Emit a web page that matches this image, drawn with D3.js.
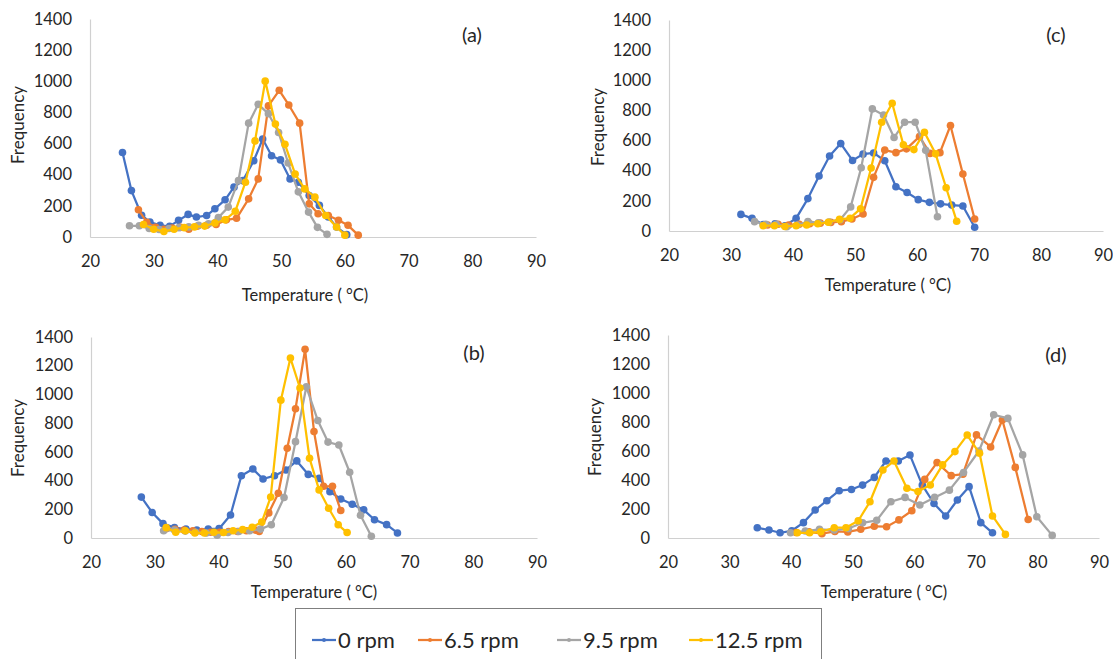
<!DOCTYPE html>
<html><head><meta charset="utf-8">
<script src="https://cdn.jsdelivr.net/npm/d3@7"></script>
<style>
body{margin:0;background:#fff;}
svg{display:block;font-family:Lato,"Open Sans",sans-serif;}
</style></head>
<body>
<svg id="chart" width="1113" height="659"></svg>
<script>
// ---------- data ----------
const seriesNames = ["0 rpm", "6.5 rpm", "9.5 rpm", "12.5 rpm"];
const seriesColors = ["#4472C4", "#ED7D31", "#A5A5A5", "#FFC000"];
const xTicks = [20, 30, 40, 50, 60, 70, 80, 90];
const yTicks = [0, 200, 400, 600, 800, 1000, 1200, 1400];
const panelLabels = ["(a)", "(b)", "(c)", "(d)"];
const xTitle = "Temperature ( °C)";
const yTitle = "Frequency";

// panel (a)
const tempA0 = [25.1,26.5,28.1,29.4,31.0,32.5,33.9,35.4,36.7,38.3,39.6,41.2,42.6,44.0,45.7,47.1,48.5,49.9,51.4,52.7,54.4,56.0,57.4,58.7,60.3];
const freqA0 = [543,298,140,96,75,68,107,145,128,138,181,239,320,362,490,629,522,495,373,352,266,203,128,64,15];
const tempA1 = [27.6,28.9,30.3,31.6,32.9,34.2,35.5,36.9,38.3,39.8,41.4,43.0,44.9,46.4,48.0,49.7,51.2,52.9,54.4,55.8,57.4,59.0,60.5,62.1];
const freqA1 = [175,95,62,50,58,62,50,70,75,80,110,120,245,373,842,942,848,731,213,149,138,107,75,12];
const tempA2 = [26.2,27.75,29.3,30.85,32.4,33.95,35.5,37.05,38.6,40.15,41.7,43.3,44.9,46.4,48.0,49.6,51.1,52.7,54.3,55.7,57.2];
const freqA2 = [72,72,55,48,55,60,65,75,85,125,192,362,731,852,792,671,475,290,160,62,17];
const tempA3 = [28.4,30.0,31.6,33.2,34.8,36.4,38.0,39.6,41.2,42.8,44.4,45.9,47.5,49.1,50.6,52.2,53.7,55.3,57.0,58.7,60.0];
const freqA3 = [80,50,35,50,60,65,70,90,110,165,352,617,1001,725,595,404,309,256,138,64,12];

// panel (b)
const tempB0 = [27.9,29.6,31.3,33.1,34.9,36.6,38.4,40.1,41.9,43.6,45.4,47.0,48.8,50.6,52.3,54.1,55.8,57.5,59.2,61.0,62.8,64.5,66.4,68.1];
const freqB0 = [285,178,100,72,62,56,62,65,160,434,481,411,434,474,537,443,415,323,272,235,196,127,93,35];
const tempB1 = [31.8,33.2,34.6,36.0,37.4,38.8,40.2,41.6,43.0,44.4,45.8,46.4,47.9,49.4,50.8,52.1,53.6,55.0,56.5,57.9,59.2];
const freqB1 = [65,60,55,50,45,40,40,45,45,50,55,45,175,312,625,900,1314,742,360,360,192];
const tempB2 = [31.4,33.1,34.8,36.4,38.1,39.8,41.5,43.2,44.9,46.6,48.3,50.3,52.1,53.8,55.6,57.2,58.9,60.6,62.3,64.0];
const freqB2 = [50,55,48,40,35,20,38,45,50,62,92,282,671,1053,818,668,648,458,158,12];
const tempB3 = [31.8,33.3,34.8,36.3,37.8,39.3,40.8,42.3,43.8,45.3,46.8,48.2,49.8,51.3,52.8,54.3,55.8,57.3,58.8,60.2];
const freqB3 = [72,40,50,35,35,40,38,50,58,75,111,285,960,1253,1045,555,335,207,92,38];

// panel (c)
const tempC0 = [31.6,33.4,35.2,37.1,38.7,40.5,42.4,44.2,45.9,47.7,49.6,51.3,53.0,54.8,56.6,58.4,60.2,62.0,63.8,65.6,67.4,69.3];
const freqC0 = [110,84,42,47,35,84,215,365,498,580,468,510,518,466,294,255,208,190,180,172,166,25];
const tempC1 = [35.9,37.6,39.3,41.0,42.7,44.4,46.1,47.8,49.5,51.3,53.0,54.8,56.6,58.3,60.4,62.1,63.7,65.4,67.4,69.3];
const freqC1 = [40,45,40,45,48,52,57,62,80,113,356,537,520,545,626,515,520,700,378,80];
const tempC2 = [33.8,35.6,37.3,39.0,40.7,42.4,44.1,45.8,47.6,49.3,51.0,52.8,54.6,56.3,58.0,59.7,61.4,63.3];
const freqC2 = [62,45,45,28,40,62,55,60,75,160,420,810,770,620,722,722,535,95];
const tempC3 = [35.2,37.0,38.7,40.5,42.2,44.0,45.7,47.5,49.2,50.9,52.6,54.3,56.0,57.8,59.5,61.2,63.0,64.7,66.4];
const freqC3 = [35,35,30,35,40,48,58,77,85,148,418,722,848,572,540,655,512,287,65];

// panel (d)
const tempD0 = [34.5,36.4,38.2,40.1,42.0,43.9,45.8,47.8,49.8,51.6,53.5,55.4,57.4,59.3,61.3,63.2,65.1,67.0,68.9,70.8,72.7];
const freqD0 = [71,55,36,50,106,193,257,326,335,365,418,531,531,572,365,238,152,262,354,106,36];
const tempD1 = [40.8,42.9,45.0,47.1,49.2,51.3,53.5,55.5,57.5,59.6,61.7,63.7,66.0,67.9,70.1,72.4,74.3,76.4,78.5];
const freqD1 = [38,42,30,45,42,60,81,78,125,188,404,520,430,440,711,628,814,487,128];
const tempD2 = [39.9,42.3,44.6,47.0,49.3,51.6,53.9,56.2,58.5,60.9,63.3,65.7,68.0,70.5,72.9,75.2,77.6,79.9,82.4];
const freqD2 = [36,48,60,55,65,105,122,250,280,228,280,330,452,600,850,825,573,147,18];
const tempD3 = [41.0,43.0,44.8,47.0,48.9,50.9,52.8,54.9,56.7,58.8,60.6,62.6,64.6,66.6,68.6,70.6,72.7,74.8];
const freqD3 = [36,36,43,71,71,119,250,469,531,343,320,366,504,596,710,584,152,25];

// ---------- layout ----------
const panels = [
  {label: panelLabels[0], x0: 90, x1: 536, yb: 237, yt: 19, lab: [472, 35], xt: [305, 295], yt2: [18, 125],
   temps: [tempA0, tempA1, tempA2, tempA3], freqs: [freqA0, freqA1, freqA2, freqA3]},
  {label: panelLabels[1], x0: 91, x1: 537, yb: 538, yt: 337, lab: [474, 353], xt: [314, 592], yt2: [18, 438],
   temps: [tempB0, tempB1, tempB2, tempB3], freqs: [freqB0, freqB1, freqB2, freqB3]},
  {label: panelLabels[2], x0: 669, x1: 1103, yb: 231, yt: 20, lab: [1056, 35], xt: [888, 285], yt2: [598, 127],
   temps: [tempC0, tempC1, tempC2, tempC3], freqs: [freqC0, freqC1, freqC2, freqC3]},
  {label: panelLabels[3], x0: 668, x1: 1099, yb: 538, yt: 335, lab: [1056, 355], xt: [884, 592], yt2: [595, 437],
   temps: [tempD0, tempD1, tempD2, tempD3], freqs: [freqD0, freqD1, freqD2, freqD3]}
];

const svg = d3.select("#chart");
const textColor = "#262626";
const fs = 16.5;

panels.forEach(p => {
  const x = d3.scaleLinear().domain([20, 90]).range([p.x0, p.x1]);
  const y = d3.scaleLinear().domain([0, 1400]).range([p.yb, p.yt]);
  const g = svg.append("g");

  const xa = g.append("g").attr("transform", `translate(0,${p.yb})`)
    .call(d3.axisBottom(x).tickValues(xTicks).tickFormat(d3.format("d")).tickSize(0).tickSizeOuter(0).tickPadding(18));
  const ya = g.append("g").attr("transform", `translate(${p.x0},0)`)
    .call(d3.axisLeft(y).tickValues(yTicks).tickFormat(d3.format("d")).tickSize(0).tickSizeOuter(0).tickPadding(18));
  [xa, ya].forEach(a => {
    a.select(".domain").attr("stroke", "#d0d0d0").attr("stroke-width", 1.2);
    a.selectAll("text").attr("fill", textColor).style("font-size", fs + "px").style("font-family", "Lato");
  });

  const line = d3.line().x(d => x(d[0])).y(d => y(d[1]));
  p.temps.forEach((ts, i) => {
    const pts = ts.map((t, k) => [t, p.freqs[i][k]]);
    const sg = g.append("g");
    sg.append("path").datum(pts).attr("d", line)
      .attr("fill", "none").attr("stroke", seriesColors[i]).attr("stroke-width", 2.25)
      .attr("stroke-linejoin", "round");
    sg.selectAll("circle").data(pts).join("circle")
      .attr("cx", d => x(d[0])).attr("cy", d => y(d[1])).attr("r", 3.8)
      .attr("fill", seriesColors[i]);
  });

  g.append("text").attr("x", p.xt[0]).attr("y", p.xt[1]).attr("dy", "0.35em")
    .attr("text-anchor", "middle").attr("fill", textColor).style("font-size", fs + "px")
    .text(xTitle);
  g.append("text").attr("transform", `translate(${p.yt2[0]},${p.yt2[1]}) rotate(-90)`)
    .attr("dy", "0.35em").attr("text-anchor", "middle").attr("fill", textColor)
    .style("font-size", "17px").text(yTitle);
  g.append("text").attr("x", p.lab[0]).attr("y", p.lab[1]).attr("dy", "0.35em")
    .attr("text-anchor", "middle").attr("fill", textColor).style("font-size", "20px")
    .text(p.label);
});

// ---------- legend ----------
const lg = svg.append("g");
lg.append("rect").attr("x", 295.5).attr("y", 608.5).attr("width", 526).attr("height", 60)
  .attr("fill", "#fff").attr("stroke", "#7f7f7f").attr("stroke-width", 1);
const legX = [312, 418, 557, 689];
seriesNames.forEach((n, i) => {
  const lx = legX[i];
  lg.append("line").attr("x1", lx).attr("x2", lx + 24).attr("y1", 640).attr("y2", 640)
    .attr("stroke", seriesColors[i]).attr("stroke-width", 2.25);
  lg.append("circle").attr("cx", lx + 12).attr("cy", 640).attr("r", 2).attr("fill", seriesColors[i]);
  lg.append("text").attr("x", lx + 26).attr("y", 640).attr("dy", "0.35em")
    .attr("fill", textColor).style("font-size", "22px").text(n);
});
</script>
</body></html>
